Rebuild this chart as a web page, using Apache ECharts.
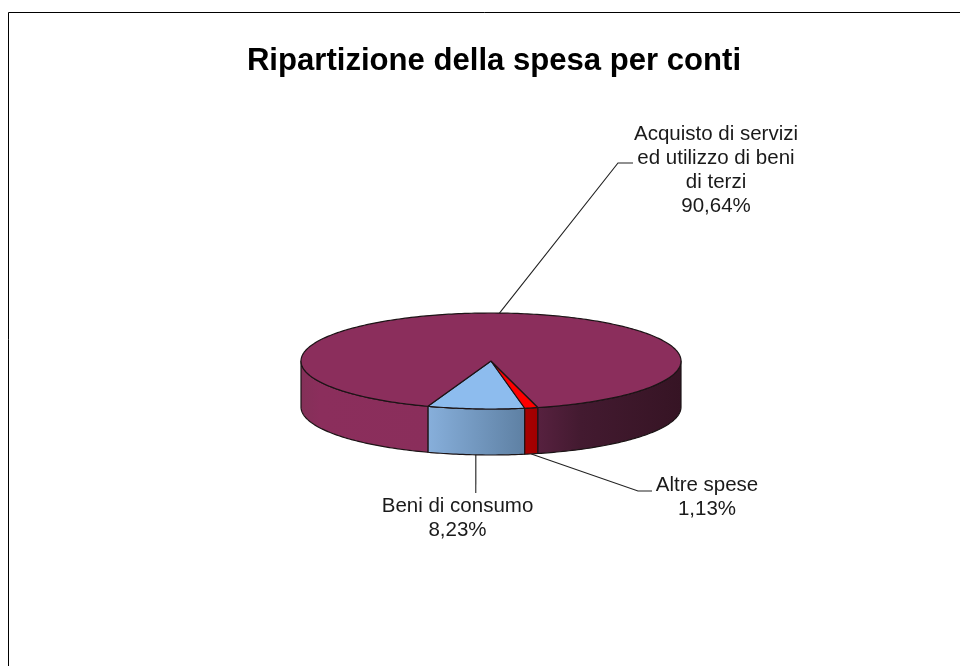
<!DOCTYPE html>
<html><head><meta charset="utf-8">
<style>html,body{margin:0;padding:0;background:#fff}#c{width:960px;height:666px}</style>
<script src="https://cdn.jsdelivr.net/npm/echarts@6/dist/echarts.min.js"></script>
</head><body><div id="c"></div>
<script>
const titleText = "Ripartizione della spesa per conti";
const categories = ["Beni di consumo", "Altre spese", "Acquisto di servizi\ned utilizzo di beni\ndi terzi"];
const shares = [8.23, 1.13, 90.64];
const valueLabels = ["8,23%", "1,13%", "90,64%"];

const topColors = ["#8dbcee", "#ff0000", "#8b2e5c"];
const wallStops = [
  [[0, "#87afdb"], [1, "#5e80a3"]],
  [[0, "#a80000"], [1, "#a00000"]],
  null
];
const purpleWallLeft = [[0, "#843058"], [0.15, "#8b2e5c"], [1, "#8a2e5b"]];
const purpleWallRight = [[0, "#57213f"], [0.3, "#431a30"], [1, "#361424"]];

const geo = { cx: 491, cy: 361, rx: 190, ry: 48, depth: 46, startDeg: -19.4 };
const labelBoxes = [
  { x: 457.5, y: 506, leader: [[475.8, 493]], side: "bottom" },
  { x: 707, y: 485, leader: [[638, 491], [652, 491]], side: "bottom" },
  { x: 716, y: 134, leader: [[618, 163], [633, 163]], side: "top" }
];
const LINE_H = 24, LABEL_FONT = 20.5;

const total = shares.reduce((a, b) => a + b, 0);
const cum = []; { let a = geo.startDeg; shares.forEach(s => { cum.push([a, a + s / total * 360]); a += s / total * 360; }); }
const pt = (deg, dy) => { const r = deg * Math.PI / 180; return [geo.cx + geo.rx * Math.sin(r), geo.cy + geo.ry * Math.cos(r) + (dy || 0)]; };
const arcPts = (a, b, dy) => { const n = Math.max(2, Math.ceil(Math.abs(b - a))), o = []; for (let i = 0; i <= n; i++) o.push(pt(a + (b - a) * i / n, dy)); return o; };
const hexGrad = (x0, x1, stops) => ({ type: "linear", x: x0, y: 0, x2: x1, y2: 0, global: true, colorStops: stops.map(s => ({ offset: s[0], color: s[1] })) });
const EDGE = { stroke: "#1c1416", lineWidth: 1.2, lineJoin: "round" };

function wallEl(a, b, fill) {
  const top = arcPts(a, b, 0), bot = arcPts(b, a, geo.depth);
  return { type: "polygon", shape: { points: top.concat(bot) }, style: Object.assign({ fill }, EDGE) };
}
function renderWall(params, api) {
  const i = params.dataIndex; api.value(1);
  const [a, b] = cum[i], kids = [];
  if (wallStops[i]) {
    kids.push(wallEl(a, b, hexGrad(pt(a)[0], pt(b)[0], wallStops[i])));
  } else {
    kids.push(wallEl(a, 90, hexGrad(pt(a)[0], pt(90)[0], purpleWallRight)));
    kids.push(wallEl(270, b, hexGrad(pt(270)[0], pt(b)[0], purpleWallLeft)));
  }
  return { type: "group", children: kids };
}
function renderTop(params, api) {
  const i = params.dataIndex; api.value(1);
  const [a, b] = cum[i];
  return { type: "polygon", shape: { points: [[geo.cx, geo.cy]].concat(arcPts(a, b, 0)) }, style: Object.assign({ fill: topColors[i] }, EDGE) };
}
function renderLabel(params, api) {
  const i = params.dataIndex; api.value(1);
  const [a, b] = cum[i], mid = (a + b) / 2, box = labelBoxes[i];
  const anchor = pt(mid, box.side === "top" ? 0 : geo.depth);
  return { type: "group", children: [
    { type: "polyline", shape: { points: [anchor].concat(box.leader) }, style: { fill: null, stroke: "#222", lineWidth: 1.1 } },
    { type: "text", style: { x: box.x, y: box.y - LINE_H / 2, text: categories[i] + "\n" + valueLabels[i], fill: "#1a1a1a",
        font: LABEL_FONT + 'px "Liberation Sans", Arial, sans-serif', align: "center", verticalAlign: "top", lineHeight: LINE_H } }
  ]};
}
const rows = categories.map((c, i) => [c, shares[i]]);
const chart = echarts.init(document.getElementById("c"), null, { renderer: "canvas" });
chart.setOption({
  animation: false,
  backgroundColor: "#ffffff",
  title: { text: titleText, left: 494, top: 41, textAlign: "center",
    textStyle: { fontFamily: '"Liberation Sans", Arial, sans-serif', fontSize: 31.1, fontWeight: "bold", color: "#000" } },
  graphic: [{ type: "polyline", silent: true, shape: { points: [[8.5, 666], [8.5, 12.5], [960, 12.5]] }, style: { fill: null, stroke: "#000", lineWidth: 1 } }],
  series: [
    { type: "custom", coordinateSystem: "none", silent: true, data: rows, renderItem: renderWall },
    { type: "custom", coordinateSystem: "none", silent: true, data: rows, renderItem: renderTop },
    { type: "custom", coordinateSystem: "none", silent: true, data: rows, renderItem: renderLabel }
  ]
});
chart.setOption({ title: { left: 489 } });
</script></body></html>
